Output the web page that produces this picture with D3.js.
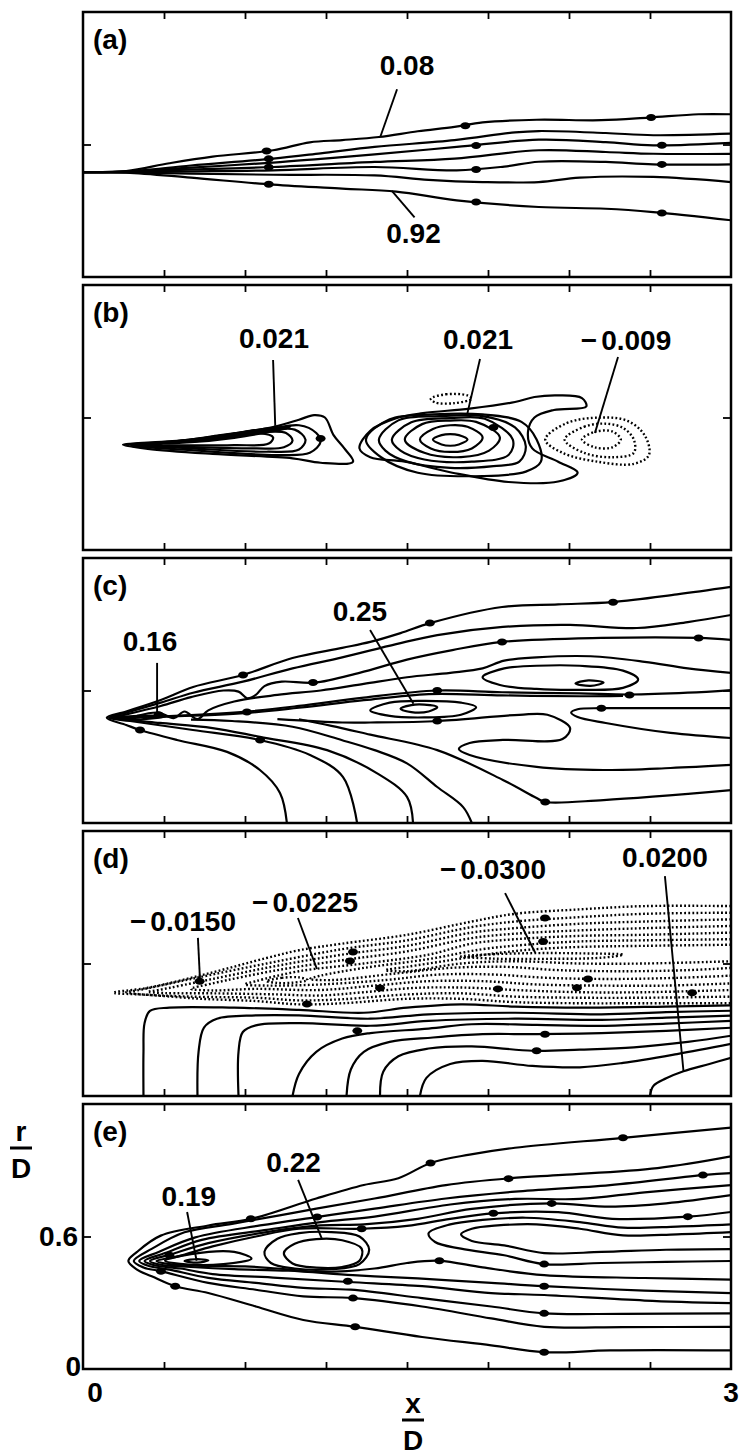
<!DOCTYPE html>
<html><head><meta charset="utf-8">
<script src="https://cdn.jsdelivr.net/npm/d3@7"></script>
<style>
html,body{margin:0;padding:0;background:#fff;}
svg{display:block;}
text{font-family:"Liberation Sans",Arial,Helvetica,sans-serif;font-weight:bold;fill:#000;font-size:28px;}
</style></head><body>
<svg id="fig" width="741" height="1454"></svg>
<script>
// ---- axes ----
const xTicks = [0.375, 0.75, 1.125, 1.5, 1.875, 2.25, 2.625];
const rTicks = [0.6];
const panelTags = ["(a)", "(b)", "(c)", "(d)", "(e)"];

// ---- (a) contour lines: level v, points [x/D, r/D] ----
const aLines = [
  {v:0.08, p:[[0,0.475],[0.2,0.48],[0.4,0.515],[0.6,0.545],[0.88,0.574],[1.05,0.61],[1.2,0.62],[1.37,0.634],[1.55,0.66],[1.72,0.68],[1.85,0.70],[2.1,0.712],[2.4,0.71],[2.62,0.722],[2.85,0.737],[3.0,0.737]]},
  {v:0.22, p:[[0,0.475],[0.2,0.478],[0.5,0.505],[0.88,0.536],[1.1,0.56],[1.35,0.589],[1.72,0.62],[2.0,0.655],[2.11,0.661],[2.42,0.652],[2.64,0.642],[3.0,0.649]]},
  {v:0.36, p:[[0,0.475],[0.2,0.477],[0.5,0.495],[0.88,0.518],[1.1,0.535],[1.35,0.555],[1.73,0.589],[2.11,0.622],[2.42,0.611],[2.64,0.596],[3.0,0.607]]},
  {v:0.50, p:[[0,0.475],[0.2,0.476],[0.5,0.487],[0.88,0.498],[1.35,0.521],[1.72,0.536],[2.11,0.574],[2.42,0.566],[2.64,0.558],[3.0,0.558]]},
  {v:0.64, p:[[0,0.475],[0.2,0.475],[0.5,0.478],[0.88,0.483],[1.35,0.498],[1.73,0.483],[1.95,0.50],[2.11,0.522],[2.42,0.521],[2.64,0.510],[3.0,0.510]]},
  {v:0.78, p:[[0,0.475],[0.2,0.474],[0.5,0.468],[0.88,0.463],[1.35,0.46],[1.6,0.44],[1.85,0.43],[2.11,0.43],[2.3,0.45],[2.64,0.453],[3.0,0.430]]},
  {v:0.92, p:[[0,0.475],[0.2,0.473],[0.5,0.45],[0.88,0.418],[1.2,0.40],[1.45,0.387],[1.73,0.347],[2.11,0.317],[2.42,0.309],[2.64,0.294],[3.0,0.257]]}
];
const aMarks = [[0.85,0.571],[0.86,0.535],[0.86,0.497],[0.86,0.420],[1.77,0.685],[1.82,0.595],[1.82,0.487],[1.82,0.340],[2.63,0.722],[2.68,0.597],[2.68,0.510],[2.68,0.290]];
const aNotes = [
  {v:0.08, f:".2f", at:[1.50,0.96], from:[1.454,0.85], to:[1.377,0.636]},
  {v:0.92, f:".2f", at:[1.53,0.196], from:[1.535,0.27], to:[1.43,0.39]}
];

// ---- (b) ----
const bLines = [
  {v:0.003, c:1, p:[[0.185,0.476],[0.4,0.49],[0.6,0.515],[0.88,0.557],[1.0,0.59],[1.07,0.611],[1.12,0.60],[1.16,0.52],[1.21,0.46],[1.25,0.40],[1.1,0.395],[0.97,0.415],[0.6,0.435],[0.3,0.458]]},
  {v:0.006, c:1, p:[[0.2,0.476],[0.5,0.50],[0.85,0.545],[1.0,0.565],[1.08,0.53],[1.10,0.49],[1.05,0.44],[0.9,0.43],[0.5,0.452]]},
  {v:0.009, c:1, p:[[0.22,0.476],[0.5,0.495],[0.85,0.54],[0.98,0.545],[1.03,0.50],[1.0,0.455],[0.85,0.445],[0.5,0.46]]},
  {v:0.012, c:1, p:[[0.25,0.476],[0.6,0.502],[0.85,0.535],[0.94,0.53],[0.97,0.495],[0.93,0.465],[0.8,0.46],[0.5,0.466]]},
  {v:0.015, c:1, p:[[0.3,0.477],[0.6,0.503],[0.82,0.528],[0.88,0.51],[0.86,0.482],[0.7,0.475],[0.45,0.474]]},
  {v:0.018, c:1, p:[[0.35,0.482],[0.62,0.512],[0.8,0.542],[0.95,0.552],[0.88,0.538],[0.7,0.508],[0.5,0.488]]},
  {v:0.021, c:1, p:[[0.45,0.49],[0.65,0.52],[0.85,0.55],[0.96,0.558],[0.9,0.548],[0.7,0.515],[0.55,0.495]]},
  {v:0.021, c:1, p:[[1.62,0.50],[1.66,0.52],[1.70,0.525],[1.74,0.52],[1.78,0.50],[1.74,0.478],[1.70,0.472],[1.66,0.478]]},
  {v:0.018, c:1, p:[[1.56,0.50],[1.62,0.548],[1.70,0.565],[1.78,0.558],[1.85,0.51],[1.80,0.46],[1.70,0.444],[1.61,0.46]]},
  {v:0.015, c:1, p:[[1.49,0.50],[1.57,0.57],[1.70,0.586],[1.82,0.58],[1.93,0.51],[1.88,0.45],[1.75,0.421],[1.58,0.44]]},
  {v:0.012, c:1, p:[[1.43,0.50],[1.52,0.578],[1.70,0.597],[1.86,0.594],[1.99,0.50],[1.97,0.43],[1.80,0.40],[1.58,0.41],[1.47,0.45]]},
  {v:0.009, c:1, p:[[1.37,0.50],[1.46,0.587],[1.65,0.606],[1.85,0.606],[2.0,0.555],[2.05,0.47],[2.02,0.40],[1.90,0.38],[1.70,0.372],[1.50,0.40],[1.40,0.45]]},
  {v:0.006, c:1, p:[[1.31,0.50],[1.42,0.592],[1.62,0.614],[1.85,0.614],[2.03,0.58],[2.10,0.50],[2.12,0.40],[2.05,0.355],[1.85,0.335],[1.55,0.35],[1.38,0.42]]},
  {v:0.003, c:1, p:[[1.28,0.46],[1.33,0.54],[1.45,0.597],[1.574,0.62],[1.79,0.64],[2.0,0.67],[2.09,0.693],[2.2,0.70],[2.31,0.688],[2.33,0.65],[2.18,0.634],[2.09,0.60],[2.06,0.534],[2.08,0.46],[2.2,0.40],[2.29,0.35],[2.2,0.31],[1.97,0.308],[1.71,0.35],[1.49,0.40],[1.33,0.42]]},
  {v:-0.003, c:1, p:[[1.61,0.685],[1.68,0.705],[1.78,0.70],[1.80,0.685],[1.72,0.665],[1.63,0.668]]},
  {v:-0.003, c:1, p:[[2.14,0.50],[2.24,0.575],[2.40,0.60],[2.52,0.585],[2.60,0.52],[2.62,0.43],[2.55,0.39],[2.38,0.40],[2.22,0.44]]},
  {v:-0.006, c:1, p:[[2.23,0.50],[2.32,0.558],[2.42,0.572],[2.50,0.553],[2.55,0.50],[2.55,0.44],[2.45,0.42],[2.32,0.44]]},
  {v:-0.009, c:1, p:[[2.31,0.50],[2.37,0.535],[2.45,0.537],[2.49,0.50],[2.45,0.465],[2.37,0.465]]}
];
const bMarks = [[1.10,0.505],[1.90,0.555]];
const bNotes = [
  {v:0.021, f:".3f", at:[0.884,0.956], from:[0.88,0.86], to:[0.89,0.562]},
  {v:0.021, f:".3f", at:[1.829,0.951], from:[1.838,0.865], to:[1.778,0.612]},
  {v:-0.009, f:".3f", at:[2.514,0.951], from:[2.477,0.874], to:[2.37,0.53]}
];

// ---- (c) ----
const cLines = [
  {v:0.02, p:[[3.0,1.069],[2.75,1.035],[2.45,1.0],[2.2,0.99],[1.94,0.978],[1.61,0.906],[1.47,0.86],[1.33,0.82],[1.2,0.793],[0.97,0.747],[0.74,0.67],[0.51,0.616],[0.36,0.557],[0.2,0.505],[0.11,0.477],[0.2,0.444],[0.264,0.421],[0.435,0.376],[0.667,0.322],[0.819,0.24],[0.912,0.136],[0.944,0]]},
  {v:0.04, p:[[3.0,0.942],[2.8,0.91],[2.565,0.883],[2.255,0.897],[1.944,0.888],[1.64,0.851],[1.45,0.81],[1.2,0.75],[0.97,0.70],[0.74,0.64],[0.51,0.59],[0.36,0.545],[0.2,0.50],[0.12,0.477],[0.218,0.462],[0.509,0.421],[0.819,0.376],[1.051,0.308],[1.204,0.208],[1.269,0]]},
  {v:0.06, p:[[3.0,0.829],[2.85,0.838],[2.4,0.838],[1.94,0.82],[1.71,0.783],[1.5,0.74],[1.28,0.68],[1.07,0.635],[0.92,0.64],[0.84,0.62],[0.80,0.58],[0.76,0.565],[0.72,0.595],[0.65,0.60],[0.5,0.57],[0.36,0.53],[0.2,0.492],[0.13,0.477],[0.2,0.468],[0.356,0.453],[0.6,0.43],[0.819,0.39],[1.13,0.33],[1.36,0.226],[1.5,0.118],[1.528,0]]},
  {v:0.08, p:[[0.25,0.485],[0.35,0.50],[0.42,0.475],[0.47,0.505],[0.53,0.47],[0.58,0.51],[0.7,0.55],[0.9,0.58],[1.1,0.60],[1.3,0.63],[1.5,0.66],[1.7,0.68],[1.85,0.70],[1.95,0.735],[2.1,0.75],[2.35,0.755],[2.6,0.73],[2.8,0.70],[3.0,0.68]]},
  {v:0.10, p:[[0.14,0.477],[0.4,0.484],[0.73,0.502],[1.0,0.53],[1.3,0.568],[1.64,0.60],[1.94,0.592],[2.3,0.587],[2.53,0.582],[2.8,0.59],[3.0,0.602]]},
  {v:0.12, p:[[0.3,0.479],[0.73,0.496],[1.0,0.522],[1.3,0.556],[1.6,0.584],[1.94,0.578],[2.3,0.574],[2.5,0.576]]},
  {v:0.12, c:1, p:[[1.85,0.66],[1.95,0.70],[2.1,0.712],[2.3,0.712],[2.5,0.69],[2.57,0.65],[2.5,0.612],[2.3,0.603],[2.1,0.607],[1.93,0.625]]},
  {v:0.14, c:1, p:[[2.28,0.632],[2.34,0.646],[2.41,0.636],[2.35,0.621]]},
  {v:0.10, p:[[3.0,0.52],[2.6,0.52],[2.4,0.52],[2.29,0.515],[2.26,0.5],[2.29,0.48],[2.42,0.453],[2.72,0.408],[3.0,0.385]]},
  {v:0.08, p:[[0.9,0.47],[1.2,0.455],[1.33,0.455],[1.65,0.462],[2.02,0.49],[2.15,0.49],[2.255,0.43],[2.22,0.38],[1.944,0.376],[1.79,0.362],[1.74,0.335],[1.79,0.308],[2.1,0.254],[2.41,0.24],[2.72,0.249],[3.0,0.263]]},
  {v:0.22, c:1, p:[[1.33,0.51],[1.42,0.545],[1.58,0.553],[1.75,0.545],[1.82,0.525],[1.75,0.49],[1.58,0.478],[1.42,0.485]]},
  {v:0.25, c:1, p:[[1.47,0.517],[1.52,0.534],[1.58,0.536],[1.64,0.525],[1.60,0.505],[1.52,0.502]]},
  {v:0.08, p:[[0.5,0.468],[0.69,0.462],[0.97,0.436],[1.2,0.375],[1.35,0.33],[1.5,0.27],[1.64,0.163],[1.76,0.072],[1.8,0]]},
  {v:0.06, p:[[1.0,0.47],[1.15,0.44],[1.33,0.40],[1.64,0.33],[1.944,0.195],[2.1,0.113],[2.14,0.095],[2.41,0.104],[3.0,0.149]]},
  {v:0.16, c:1, p:[[0.16,0.477],[0.26,0.485],[0.38,0.482],[0.28,0.47]]}
];
const cMarks = [[0.741,0.67],[1.065,0.636],[0.264,0.421],[0.759,0.503],[0.82,0.376],[1.64,0.60],[1.64,0.462],[2.53,0.58],[2.40,0.52],[2.14,0.095],[1.606,0.906],[2.454,1.0],[1.94,0.82],[2.85,0.838],[0.35,0.49]];
const cNotes = [
  {v:0.16, f:".2f", at:[0.31,0.82], from:[0.343,0.725], to:[0.343,0.48]},
  {v:0.25, f:".2f", at:[1.282,0.956], from:[1.329,0.874], to:[1.53,0.54]}
];

// ---- (d) ----
const dLines = [
  {v:0.0025, p:[[0.28,0],[0.28,0.2],[0.285,0.33],[0.31,0.385],[0.4,0.40],[0.7,0.40],[1.0,0.39],[1.3,0.377],[1.5,0.40],[1.75,0.415],[2.0,0.405],[2.3,0.40],[2.7,0.405],[3.0,0.41]]},
  {v:0.0050, p:[[0.53,0],[0.535,0.2],[0.56,0.31],[0.62,0.35],[0.8,0.365],[1.0,0.365],[1.33,0.35],[1.6,0.37],[2.0,0.377],[2.4,0.37],[2.7,0.38],[3.0,0.386]]},
  {v:0.0075, p:[[0.72,0],[0.72,0.2],[0.74,0.29],[0.8,0.32],[1.0,0.33],[1.33,0.318],[1.6,0.34],[2.0,0.35],[2.4,0.345],[2.7,0.355],[3.0,0.364]]},
  {v:0.0100, p:[[0.97,0],[1.0,0.10],[1.08,0.2],[1.2,0.26],[1.33,0.285],[1.6,0.305],[1.8,0.325],[2.1,0.322],[2.4,0.318],[2.7,0.328],[3.0,0.34]]},
  {v:0.0125, p:[[1.22,0],[1.24,0.12],[1.3,0.2],[1.42,0.245],[1.62,0.265],[1.85,0.28],[2.1,0.28],[2.4,0.285],[2.7,0.295],[3.0,0.309]]},
  {v:0.0150, p:[[1.375,0],[1.39,0.11],[1.46,0.18],[1.6,0.215],[1.8,0.225],[2.08,0.205],[2.3,0.21],[2.55,0.22],[2.8,0.245],[3.0,0.273]]},
  {v:0.0175, p:[[1.56,0],[1.59,0.082],[1.70,0.145],[1.85,0.159],[2.08,0.136],[2.3,0.13],[2.5,0.15],[2.75,0.19],[3.0,0.236]]},
  {v:0.0200, p:[[2.625,0],[2.64,0.045],[2.7,0.08],[2.78,0.112],[2.9,0.145],[3.0,0.173]]},
  {v:-0.0025, p:[[3.0,0.86],[2.6,0.86],[2.3,0.845],[2.0,0.825],[1.8,0.79],[1.5,0.73],[1.2,0.69],[1.0,0.66],[0.85,0.625],[0.6,0.56],[0.3,0.49],[0.14,0.468],[0.3,0.458],[0.55,0.44],[0.8,0.43],[1.0,0.415],[1.2,0.42],[1.5,0.44],[1.75,0.44],[2.0,0.425],[2.3,0.42],[2.6,0.42],[3.0,0.42]]},
  {v:-0.0050, p:[[3.0,0.83],[2.6,0.825],[2.3,0.81],[2.0,0.79],[1.8,0.765],[1.5,0.705],[1.2,0.665],[0.85,0.60],[0.5,0.53],[0.25,0.478],[0.2,0.47],[0.25,0.462],[0.5,0.45],[0.8,0.445],[1.0,0.433],[1.2,0.438],[1.5,0.46],[1.75,0.465],[2.0,0.45],[2.3,0.445],[2.6,0.445],[3.0,0.45]]},
  {v:-0.0075, p:[[3.0,0.80],[2.6,0.79],[2.3,0.78],[2.0,0.76],[1.8,0.74],[1.5,0.68],[1.2,0.64],[0.9,0.59],[0.6,0.53],[0.35,0.48],[0.3,0.472],[0.38,0.466],[0.6,0.465],[0.9,0.46],[1.1,0.455],[1.3,0.47],[1.55,0.49],[1.8,0.49],[2.0,0.48],[2.3,0.47],[2.6,0.47],[3.0,0.48]]},
  {v:-0.0100, p:[[3.0,0.77],[2.6,0.76],[2.3,0.75],[2.0,0.735],[1.8,0.715],[1.5,0.655],[1.2,0.615],[0.9,0.57],[0.6,0.51],[0.5,0.485],[0.6,0.478],[0.8,0.485],[1.1,0.48],[1.35,0.50],[1.6,0.52],[1.85,0.52],[2.1,0.505],[2.4,0.50],[2.7,0.50],[3.0,0.51]]},
  {v:-0.0125, p:[[3.0,0.74],[2.6,0.73],[2.3,0.725],[2.0,0.71],[1.8,0.69],[1.6,0.64],[1.3,0.60],[1.0,0.565],[0.8,0.52],[0.75,0.505],[0.85,0.50],[1.1,0.505],[1.4,0.525],[1.65,0.55],[1.9,0.55],[2.15,0.535],[2.45,0.53],[2.75,0.535],[3.0,0.545]]},
  {v:-0.0150, p:[[3.0,0.71],[2.6,0.705],[2.3,0.70],[2.05,0.685],[1.85,0.665],[1.6,0.62],[1.3,0.58],[1.1,0.545],[1.05,0.53],[1.15,0.525],[1.45,0.555],[1.7,0.58],[1.95,0.585],[2.2,0.57],[2.5,0.565],[2.8,0.57],[3.0,0.58]]},
  {v:-0.0225, p:[[3.0,0.685],[2.6,0.68],[2.3,0.675],[2.1,0.665],[1.9,0.645],[1.7,0.615],[1.5,0.585],[1.4,0.57],[1.5,0.565],[1.75,0.60],[2.0,0.61],[2.3,0.60],[2.6,0.60],[3.0,0.61]]},
  {v:-0.0225, c:1, p:[[0.85,0.52],[0.92,0.535],[1.0,0.537],[1.04,0.525],[0.97,0.513],[0.9,0.512]]},
  {v:-0.0300, c:1, p:[[1.75,0.632],[1.9,0.642],[2.1,0.647],[2.3,0.646],[2.5,0.64],[2.4,0.626],[2.1,0.621],[1.9,0.622]]}
];
const dMarks = [[0.54,0.52],[1.25,0.652],[1.236,0.611],[1.037,0.417],[2.139,0.806],[2.13,0.70],[1.375,0.489],[1.921,0.485],[2.338,0.53],[2.287,0.49],[2.82,0.467],[2.10,0.205],[1.27,0.295],[2.139,0.28]];
const dNotes = [
  {v:-0.015, f:".4f", at:[0.463,0.793], from:[0.532,0.716], to:[0.542,0.52]},
  {v:-0.0225, f:".4f", at:[1.028,0.879], from:[0.995,0.806], to:[1.083,0.575]},
  {v:-0.03, f:".4f", at:[1.898,1.028], from:[1.954,0.919], to:[2.093,0.65]},
  {v:0.02, f:".4f", at:[2.694,1.078], from:[2.694,0.996], to:[2.78,0.112]}
];

// ---- (e) ----
const eLines = [
  {v:0.02, p:[[3.0,1.093],[2.5,1.047],[2.0,1.002],[1.79,0.971],[1.61,0.933],[1.46,0.864],[1.3,0.833],[1.08,0.772],[0.78,0.68],[0.58,0.65],[0.36,0.604],[0.25,0.53],[0.21,0.489],[0.25,0.45],[0.318,0.42],[0.427,0.375],[0.58,0.344],[0.8,0.283],[1.02,0.222],[1.26,0.191],[1.57,0.145],[1.89,0.107],[2.135,0.076],[2.44,0.084],[3.0,0.084]]},
  {v:0.04, p:[[3.0,0.963],[2.66,0.91],[2.22,0.879],[1.98,0.864],[1.68,0.833],[1.35,0.772],[1.08,0.726],[0.91,0.696],[0.69,0.657],[0.47,0.619],[0.32,0.545],[0.235,0.489],[0.28,0.46],[0.36,0.443],[0.58,0.39],[0.8,0.359],[1.02,0.329],[1.25,0.321],[1.57,0.283],[1.89,0.229],[2.135,0.191],[2.5,0.19],[3.0,0.191]]},
  {v:0.06, p:[[3.0,0.887],[2.88,0.879],[2.44,0.833],[2.0,0.803],[1.68,0.772],[1.35,0.726],[1.08,0.688],[0.82,0.65],[0.52,0.596],[0.35,0.53],[0.26,0.489],[0.31,0.465],[0.40,0.45],[0.58,0.413],[0.8,0.39],[1.02,0.367],[1.24,0.359],[1.57,0.321],[1.89,0.283],[2.135,0.252],[2.5,0.25],[3.0,0.252]]},
  {v:0.08, p:[[3.0,0.833],[2.6,0.80],[2.3,0.77],[2.0,0.77],[1.7,0.745],[1.35,0.69],[1.1,0.665],[0.85,0.63],[0.55,0.585],[0.38,0.525],[0.285,0.489],[0.33,0.47],[0.45,0.455],[0.6,0.43],[0.9,0.413],[1.23,0.394],[1.57,0.375],[1.89,0.344],[2.135,0.335],[2.6,0.31],[3.0,0.298]]},
  {v:0.10, p:[[3.0,0.787],[2.7,0.75],[2.44,0.735],[2.17,0.75],[1.8,0.725],[1.55,0.68],[1.3,0.655],[1.1,0.65],[0.85,0.62],[0.58,0.57],[0.41,0.52],[0.31,0.489],[0.36,0.472],[0.5,0.462],[0.7,0.452],[0.95,0.445],[1.25,0.425],[1.55,0.41],[1.89,0.39],[2.135,0.375],[2.6,0.355],[3.0,0.344]]},
  {v:0.12, p:[[3.0,0.711],[2.8,0.69],[2.45,0.68],[2.2,0.71],[1.9,0.705],[1.7,0.68],[1.5,0.648],[1.29,0.635],[1.0,0.635],[0.8,0.60],[0.6,0.555],[0.44,0.51],[0.34,0.489],[0.4,0.475],[0.55,0.467],[0.75,0.465],[0.9,0.455],[1.1,0.44],[1.35,0.455],[1.5,0.48],[1.65,0.49],[1.85,0.46],[2.135,0.425],[2.6,0.412],[3.0,0.405]]},
  {v:0.14, p:[[3.0,0.655],[2.75,0.645],[2.5,0.64],[2.3,0.665],[2.05,0.685],[1.85,0.675],[1.7,0.655],[1.6,0.615],[1.63,0.575],[1.75,0.545],[1.95,0.515],[2.135,0.475],[2.4,0.48],[2.7,0.485],[3.0,0.489]]},
  {v:0.16, p:[[3.0,0.62],[2.75,0.61],[2.5,0.605],[2.3,0.635],[2.1,0.655],[1.92,0.65],[1.8,0.635],[1.75,0.61],[1.8,0.58],[1.95,0.56],[2.135,0.525],[2.4,0.53],[2.7,0.54],[3.0,0.543]]},
  {v:0.20, c:1, p:[[0.84,0.53],[0.9,0.59],[1.0,0.615],[1.15,0.62],[1.28,0.60],[1.325,0.54],[1.28,0.475],[1.15,0.452],[0.98,0.455],[0.87,0.48]]},
  {v:0.22, c:1, p:[[0.93,0.525],[0.98,0.567],[1.08,0.588],[1.2,0.583],[1.29,0.545],[1.28,0.49],[1.2,0.462],[1.08,0.459],[0.97,0.478]]},
  {v:0.17, c:1, p:[[0.38,0.49],[0.5,0.52],[0.7,0.53],[0.78,0.5],[0.65,0.475],[0.45,0.476]]},
  {v:0.19, c:1, p:[[0.47,0.489],[0.52,0.497],[0.58,0.492],[0.53,0.482]]}
];
const eMarks = [[0.777,0.68],[1.609,0.933],[2.5,1.047],[1.97,0.862],[2.87,0.878],[1.084,0.688],[2.17,0.75],[1.9,0.705],[1.29,0.635],[2.8,0.69],[0.361,0.443],[0.427,0.375],[1.226,0.397],[1.25,0.321],[1.26,0.191],[1.65,0.49],[2.135,0.475],[2.135,0.375],[2.135,0.252],[2.135,0.076],[0.4,0.515]];
const eNotes = [
  {v:0.22, f:".2f", at:[0.975,0.933], from:[0.996,0.856], to:[1.106,0.589]},
  {v:0.19, f:".2f", at:[0.49,0.783], from:[0.482,0.711], to:[0.526,0.49]}
];

// ---- layout ----
const L = 83, R = 731, PH = 265;
const tops = [12, 285, 558, 831, 1104];
const svg = d3.select("#fig");
const x = d3.scaleLinear().domain([0, 3]).range([L, R]);

const panels = [
  {lines:aLines, marks:aMarks, notes:aNotes},
  {lines:bLines, marks:bMarks, notes:bNotes},
  {lines:cLines, marks:cMarks, notes:cNotes},
  {lines:dLines, marks:dMarks, notes:dNotes},
  {lines:eLines, marks:eMarks, notes:eNotes}
];

let yLast;
panels.forEach((P, i) => {
  const top = tops[i];
  const y = d3.scaleLinear().domain([0, 1.2]).range([top + PH, top]);
  yLast = y;
  const g = svg.append("g");
  svg.append("clipPath").attr("id", "clip" + i)
    .append("rect").attr("x", L).attr("y", top).attr("width", R - L).attr("height", PH);
  const cg = g.append("g").attr("clip-path", `url(#clip${i})`);

  const open = d3.line().x(d => x(d[0])).y(d => y(d[1])).curve(d3.curveCatmullRom.alpha(0.5));
  const shut = d3.line().x(d => x(d[0])).y(d => y(d[1])).curve(d3.curveCatmullRomClosed.alpha(0.5));

  cg.selectAll("path.contour").data(P.lines).join("path")
    .attr("class", "contour")
    .attr("d", d => (d.c ? shut : open)(d.p))
    .attr("fill", "none")
    .attr("stroke", "#000")
    .attr("stroke-width", d => d.v < 0 ? 2.4 : 2.2)
    .attr("stroke-linejoin", "round")
    .attr("stroke-dasharray", d => d.v < 0 ? "1.8 2.3" : null);

  cg.selectAll("ellipse.mark").data(P.marks).join("ellipse")
    .attr("class", "mark")
    .attr("cx", d => x(d[0])).attr("cy", d => y(d[1]))
    .attr("rx", 5).attr("ry", 3.5).attr("fill", "#000");

  // frame
  g.append("rect").attr("x", L).attr("y", top).attr("width", R - L).attr("height", PH)
    .attr("fill", "none").attr("stroke", "#000").attr("stroke-width", 2.5);

  // inward ticks on all four sides
  const strip = s => s.select(".domain").remove();
  g.append("g").attr("transform", `translate(0,${top + PH})`)
    .call(d3.axisBottom(x).tickValues(xTicks).tickSize(-7).tickFormat("")).call(strip);
  g.append("g").attr("transform", `translate(0,${top})`)
    .call(d3.axisTop(x).tickValues(xTicks).tickSize(-7).tickFormat("")).call(strip);
  g.append("g").attr("transform", `translate(${L},0)`)
    .call(d3.axisLeft(y).tickValues(rTicks).tickSize(-8).tickFormat("")).call(strip);
  g.append("g").attr("transform", `translate(${R},0)`)
    .call(d3.axisRight(y).tickValues(rTicks).tickSize(-8).tickFormat("")).call(strip);
  g.selectAll(".tick line").attr("stroke", "#000").attr("stroke-width", 1.8);

  // panel tag
  g.append("text").attr("x", L + 10).attr("y", top + 27)
    .attr("dominant-baseline", "central").text(panelTags[i]);

  // level labels with leaders
  P.notes.forEach(n => {
    g.append("line")
      .attr("x1", x(n.from[0])).attr("y1", y(n.from[1]))
      .attr("x2", x(n.to[0])).attr("y2", y(n.to[1]))
      .attr("stroke", "#000").attr("stroke-width", 1.9);
    const s = d3.format(n.f)(Math.abs(n.v));
    const t = g.append("text").attr("x", x(n.at[0])).attr("y", y(n.at[1]))
      .attr("text-anchor", "middle").attr("dominant-baseline", "central");
    if (n.v < 0) {
      t.append("tspan").text("\u2212");
      t.append("tspan").attr("dx", 4).text(s);
    } else {
      t.text(s);
    }
  });
});

// axis labels on the bottom panel
const ye = yLast;
svg.append("text").attr("x", L - 5).attr("y", ye(0.6)).attr("text-anchor", "end")
  .attr("dominant-baseline", "central").text("0.6");
svg.append("text").attr("x", L - 2).attr("y", ye(0) - 3).attr("text-anchor", "end")
  .attr("dominant-baseline", "central").text("0");
svg.append("text").attr("x", x(0) + 12).attr("y", 1392).attr("text-anchor", "middle")
  .attr("dominant-baseline", "central").text("0");
svg.append("text").attr("x", x(3)).attr("y", 1392).attr("text-anchor", "middle")
  .attr("dominant-baseline", "central").text("3");

// x/D and r/D fractions
function frac(cx, yTop, num, den) {
  svg.append("text").attr("x", cx).attr("y", yTop).attr("text-anchor", "middle")
    .attr("dominant-baseline", "central").text(num);
  svg.append("line").attr("x1", cx - 11).attr("x2", cx + 11)
    .attr("y1", yTop + 17).attr("y2", yTop + 17)
    .attr("stroke", "#000").attr("stroke-width", 3);
  svg.append("text").attr("x", cx).attr("y", yTop + 37).attr("text-anchor", "middle")
    .attr("dominant-baseline", "central").text(den);
}
frac(x(1.5) + 6, 1403, "x", "D");
frac(21, 1131, "r", "D");
</script>
</body></html>
